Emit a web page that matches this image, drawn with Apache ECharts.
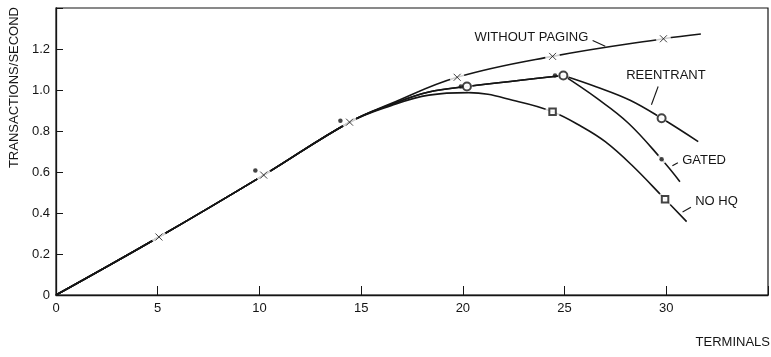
<!DOCTYPE html>
<html>
<head>
<meta charset="utf-8">
<script src="https://cdn.jsdelivr.net/npm/echarts@6/dist/echarts.min.js"></script>
<style>
  html, body { margin: 0; padding: 0; background: #fff; }
  #chart { width: 771px; height: 357px; }
</style>
</head>
<body>
<div id="chart"></div>
<script>
// Transaction throughput against number of terminals, four paging configurations.

// Curves: [terminals, transactions/second]
const withoutPaging = [[0,0],[5.06,0.283],[10.21,0.585],[14.43,0.843],[16.5,0.935],[19.72,1.062],[24.41,1.164],[29.86,1.250],[31.70,1.273]];
const reentrant = [[0,0],[5.06,0.283],[10.21,0.585],[14.43,0.843],[16.5,0.930],[18.33,0.990],[20.20,1.017],[24.94,1.071],[26.58,1.015],[28.22,0.950],[29.77,0.862],[31.57,0.748]];
const gated = [[0,0],[5.06,0.283],[10.21,0.585],[14.43,0.843],[16.5,0.930],[18.33,0.990],[20.20,1.017],[24.94,1.071],[26.58,0.960],[28.14,0.838],[29.77,0.662],[30.67,0.553]];
const noHq = [[0,0],[5.06,0.283],[10.21,0.585],[14.43,0.843],[16.5,0.925],[18.33,0.975],[20.29,0.987],[22.75,0.943],[24.41,0.894],[25.85,0.821],[27.0,0.748],[28.3,0.634],[29.94,0.467],[31.0,0.358]];

// Measured points
const crossPts  = [[5.06,0.283],[10.21,0.585],[14.43,0.843],[19.72,1.062],[24.41,1.164],[29.86,1.250]];
const dotPts    = [[9.80,0.607],[13.98,0.850],[19.90,1.017],[24.53,1.071],[29.77,0.662]];
const circlePts = [[20.20,1.017],[24.94,1.071],[29.77,0.862]];
const squarePts = [[24.41,0.894],[29.94,0.467]];

// Axis ranges
const xMin = 0, xMax = 35, xStep = 5, xLastLabel = 30;
const yMin = 0, yMax = 1.4, yStep = 0.2, yLastLabel = 1.2;

// Curve labels: text, text anchor [x, y], leader line from/to
const curveLabels = [
  { text: 'WITHOUT PAGING', at: [20.57, 1.255], from: [26.38, 1.242], to: [27.0, 1.213] },
  { text: 'REENTRANT',      at: [28.03, 1.070], from: [29.60, 1.017], to: [29.27, 0.928] },
  { text: 'GATED',          at: [30.78, 0.656], from: [30.57, 0.645], to: [30.30, 0.630] },
  { text: 'NO HQ',          at: [31.42, 0.456], from: [31.21, 0.428], to: [30.80, 0.405] }
];

const FONT = 'Liberation Sans';
const INK = '#151515';

const chart = echarts.init(document.getElementById('chart'), null, { renderer: 'canvas' });

function line(data) {
  return {
    type: 'line', data, smooth: 0.4, symbol: 'none', z: 2,
    lineStyle: { color: INK, width: 1.6 }, silent: true, animation: false
  };
}
// A curve with a sharp peak is drawn as two smooth pieces meeting at the peak.
function curve(data, splitAtPeak) {
  if (!splitAtPeak) return [line(data)];
  let k = 0;
  data.forEach((p, i) => { if (p[1] > data[k][1]) k = i; });
  return [line(data.slice(0, k + 1)), line(data.slice(k))];
}
function mask(data, size) {
  return {
    type: 'scatter', data, symbol: 'circle', symbolSize: size, z: 3,
    itemStyle: { color: '#fff' }, silent: true, animation: false
  };
}
function marker(data, symbol, size, style) {
  return {
    type: 'scatter', data, symbol, symbolSize: size, z: 4,
    itemStyle: style, silent: true, animation: false
  };
}

chart.setOption({
  animation: false,
  backgroundColor: '#fff',
  grid: { left: 56, right: 1, top: 8, bottom: 62, show: true, borderColor: INK, borderWidth: 1.2 },
  xAxis: {
    type: 'value', min: xMin, max: xMax, interval: xStep,
    axisLine: { show: true, lineStyle: { color: INK, width: 1.3 } },
    axisTick: { show: true, inside: true, length: 9, lineStyle: { color: INK, width: 1 } },
    splitLine: { show: false },
    axisLabel: {
      margin: 7, fontFamily: FONT, fontSize: 13, color: INK,
      formatter: v => (v <= xLastLabel ? String(v) : '')
    }
  },
  yAxis: {
    type: 'value', min: yMin, max: yMax, interval: yStep,
    axisLine: { show: true, lineStyle: { color: INK, width: 1.3 } },
    axisTick: { show: true, inside: true, length: 7, lineStyle: { color: INK, width: 1 } },
    splitLine: { show: false },
    axisLabel: {
      margin: 6, fontFamily: FONT, fontSize: 13, color: INK,
      formatter: v => (v > yLastLabel + 1e-9 ? '' : (v === 0 ? '0' : v.toFixed(1)))
    }
  },
  series: [
    ...curve(withoutPaging, false),
    ...curve(reentrant, true),
    ...curve(gated, true),
    ...curve(noHq, false),
    mask(crossPts, 15),
    mask(squarePts, 15),
    mask(circlePts, 11),
    mask(dotPts.slice(-1), 10),
    marker(crossPts, 'path://M0,0L10,10M10,0L0,10', 7, { color: 'transparent', borderColor: INK, borderWidth: 1 }),
    marker(circlePts, 'emptyCircle', 8, { color: INK, borderWidth: 1.3 }),
    marker(squarePts, 'emptyRect', 6.5, { color: INK, borderWidth: 1.3 }),
    marker(dotPts, 'circle', 4.5, { color: INK })
  ]
});

// Curve labels and leader lines, placed from data coordinates
const px = p => chart.convertToPixel({ gridIndex: 0 }, p);
const graphics = [];
curveLabels.forEach(l => {
  const a = px(l.at), f = px(l.from), t = px(l.to);
  graphics.push({
    type: 'text', x: a[0], y: a[1], z: 10,
    style: { text: l.text, font: '13px "' + FONT + '"', fill: INK, verticalAlign: 'middle' }
  });
  graphics.push({
    type: 'line', z: 10,
    shape: { x1: f[0], y1: f[1], x2: t[0], y2: t[1] },
    style: { stroke: INK, lineWidth: 1.1 }
  });
});
graphics.push({
  type: 'text', right: 1, top: 336, z: 10,
  style: { text: 'TERMINALS', font: '13px "' + FONT + '"', fill: INK }
});
graphics.push({
  type: 'text', left: 8, top: 7, z: 10, rotation: Math.PI / 2,
  originX: 0, originY: 0,
  style: { text: 'TRANSACTIONS/SECOND', font: '13px "' + FONT + '"', fill: INK }
});
chart.setOption({ graphic: graphics });
</script>
</body>
</html>
